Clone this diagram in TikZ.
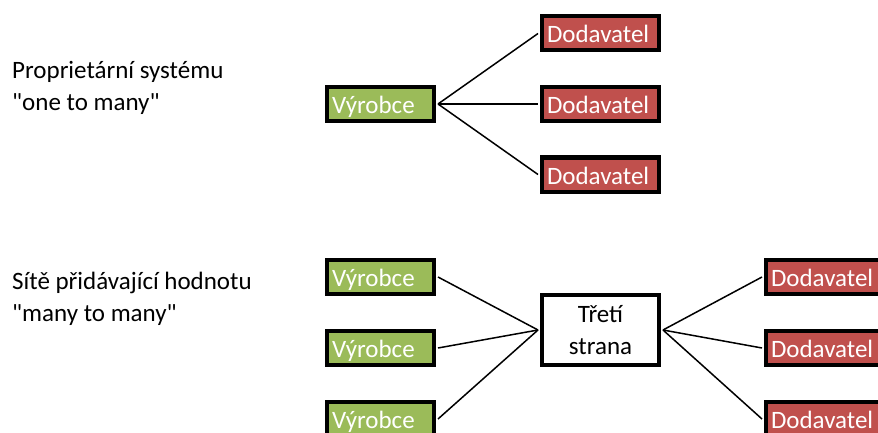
\documentclass[tikz,border=0pt]{standalone}
\usepackage{fontspec}
\setmainfont{Carlito}
\definecolor{makergreen}{HTML}{9BBB59}
\definecolor{supplierred}{HTML}{C0504D}
\begin{document}
\begin{tikzpicture}[x=1pt,y=-1pt,
  every node/.style={font=\fontsize{25}{32}\selectfont},
  box/.style={draw=black, line width=4pt, rectangle, inner xsep=5pt, inner ysep=0pt,
    minimum height=34pt, align=left, text height=20pt, text depth=1pt},
  maker/.style={box, fill=makergreen, text=white, minimum width=107pt, text width=97pt},
  supplier/.style={box, fill=supplierred, text=white, minimum width=117pt, text width=107pt},
  third/.style={draw=black, line width=4pt, fill=white, rectangle, minimum width=117pt,
    minimum height=70pt, align=center},
  link/.style={draw=black, line width=1.5pt},
  caption/.style={anchor=base west, inner sep=0pt}]
\useasboundingbox (0,0) rectangle (878,433);
\clip (0,0) rectangle (878,433);

% captions
\node[caption] (c1a) at (12,79) {Proprietární systému};
\node[caption] (c1b) at (12,111) {\textquotedbl one to many\textquotedbl};
\node[caption] (c2a) at (12,289) {Sítě přidávající hodnotu};
\node[caption] (c2b) at (12,321) {\textquotedbl many to many\textquotedbl};

% one to many
\node[maker] (v0) at (380.5,104) {Výrobce};
\node[supplier] (d1) at (600.5,33.5) {Dodavatel};
\node[supplier] (d2) at (600.5,104) {Dodavatel};
\node[supplier] (d3) at (600.5,174.5) {Dodavatel};
\foreach \d in {d1,d2,d3} \draw[link] ([xshift=2pt]v0.east) -- ([xshift=-2pt]\d.west);

% many to many
\node[maker] (va) at (380.5,277) {Výrobce};
\node[maker] (vb) at (380.5,348) {Výrobce};
\node[maker] (vc) at (380.5,419) {Výrobce};
\node[third] (t) at (600.5,330) {Třetí\\strana};
\node[supplier] (da) at (824.5,277) {Dodavatel};
\node[supplier] (db) at (824.5,348) {Dodavatel};
\node[supplier] (dc) at (824.5,419) {Dodavatel};
\foreach \v in {va,vb,vc} \draw[link] ([xshift=2pt]\v.east) -- ([xshift=-2pt]t.west);
\foreach \d in {da,db,dc} \draw[link] ([xshift=2pt]t.east) -- ([xshift=-2pt]\d.west);
\end{tikzpicture}
\end{document}
